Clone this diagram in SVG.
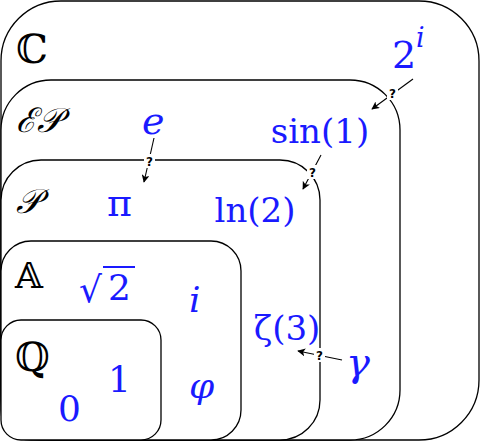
<svg xmlns="http://www.w3.org/2000/svg" width="481" height="441" viewBox="0 0 481 441">
<style>
.box{fill:#fff;stroke:#000;stroke-width:1.3}
.set{fill:#000;font-family:"DejaVu Serif",serif}
.m{fill:#1a1aff;font-family:"DejaVu Serif",serif}
.it{font-style:italic}
.q{font-family:"DejaVu Sans",sans-serif;font-size:12px;font-weight:bold;fill:#000}
.c{stroke:#000;stroke-width:1.1;fill:none;marker-end:url(#ah)}
</style>
<defs>
<marker id="ah" viewBox="0 0 10 10" refX="9" refY="5" markerWidth="8" markerHeight="8" markerUnits="userSpaceOnUse" orient="auto">
<path d="M0,0 L10,5 L0,10 L2.5,5 Z" fill="#000"/>
</marker>
</defs>
<g id="C">
<rect class="box" x="1" y="1" width="478" height="439" rx="60" ry="60"/>
<text class="set" x="16" y="63" font-size="40">ℂ</text>
<text class="m" x="392" y="68" font-size="38">2</text>
<text class="m it" x="416" y="47" font-size="27">i</text>
</g>
<g id="EP">
<rect class="box" x="1" y="80" width="399" height="360" rx="50" ry="50"/>
<text class="set it" x="16" y="132" font-size="34">ℰ𝒫</text>
<text class="m it" x="142" y="134" font-size="38">e</text>
<text class="m" x="320" y="143" font-size="34" text-anchor="middle">sin(1)</text>
</g>
<g id="P">
<rect class="box" x="1" y="160" width="319" height="280" rx="40" ry="40"/>
<text class="set it" x="16" y="213" font-size="34">𝒫</text>
<text class="m" x="107" y="216" font-size="38">π</text>
<text class="m" x="255" y="222" font-size="34" text-anchor="middle">ln(2)</text>
<text class="m" x="287" y="340" font-size="34" text-anchor="middle">ζ(3)</text>
<text class="m it" x="346" y="376" font-size="40">γ</text>
</g>
<g id="A">
<rect class="box" x="1" y="241" width="240" height="199" rx="30" ry="30"/>
<text class="set" x="15" y="288" font-size="36">𝔸</text>
<text class="m" x="79" y="302" font-size="36">√</text>
<line x1="103" y1="267" x2="135" y2="267" stroke="#1a1aff" stroke-width="2"/>
<text class="m" x="108" y="300" font-size="36">2</text>
<text class="m it" x="189" y="312" font-size="36">i</text>
<text class="m it" x="189" y="398" font-size="36">φ</text>
</g>
<g id="Q">
<rect class="box" x="1" y="320" width="160" height="120" rx="20" ry="20"/>
<text class="set" x="15" y="371" font-size="40">ℚ</text>
<text class="m" x="108" y="392" font-size="36">1</text>
<text class="m" x="58" y="421" font-size="36">0</text>
</g>
<g id="connectors">
<line class="c" x1="413" y1="79" x2="372" y2="109"/>
<line class="c" x1="321" y1="155" x2="303" y2="189"/>
<line class="c" x1="154" y1="138" x2="144" y2="182"/>
<line class="c" x1="342" y1="360" x2="298" y2="351"/>
<rect x="387" y="86" width="11" height="14" fill="#fff"/>
<text class="q" x="392.5" y="97.5" text-anchor="middle">?</text>
<rect x="307" y="165" width="11" height="14" fill="#fff"/>
<text class="q" x="312.5" y="176.5" text-anchor="middle">?</text>
<rect x="144" y="154" width="11" height="14" fill="#fff"/>
<text class="q" x="149.5" y="165.5" text-anchor="middle">?</text>
<rect x="314" y="348" width="11" height="14" fill="#fff"/>
<text class="q" x="319.5" y="359.5" text-anchor="middle">?</text>
</g>
</svg>
